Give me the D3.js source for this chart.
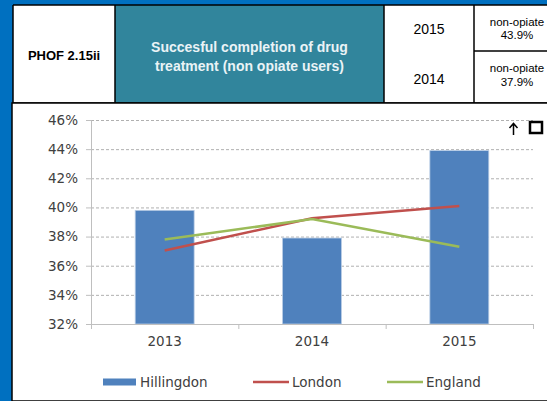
<!DOCTYPE html>
<html>
<head>
<meta charset="utf-8">
<script src="https://cdn.jsdelivr.net/npm/d3@7"></script>
<style>
  body { margin: 0; background: #0070c0; }
  svg { display: block; }
</style>
</head>
<body>
<div id="chart"></div>
<script>
var years = ["2013", "2014", "2015"];
var hillingdon = [39.8, 37.9, 43.9];
var london = [37.05, 39.25, 40.1];
var england = [37.8, 39.2, 37.3];
var yTicks = [32, 34, 36, 38, 40, 42, 44, 46];
var seriesNames = ["Hillingdon", "London", "England"];
var seriesColors = ["#4f81bd", "#c0504d", "#9bbb59"];

var width = 547, height = 401;
var svg = d3.select("#chart").append("svg")
  .attr("width", width)
  .attr("height", height);

// header table
var hTop = 5, hBot = 103, hMid = 51;
svg.append("rect").attr("x", 13).attr("y", hTop).attr("width", 102).attr("height", hBot - hTop).attr("fill", "#fff");
svg.append("rect").attr("x", 115).attr("y", hTop).attr("width", 269).attr("height", hBot - hTop).attr("fill", "#31859c");
svg.append("rect").attr("x", 384).attr("y", hTop).attr("width", 170).attr("height", hBot - hTop).attr("fill", "#fff");

var lines = [[13, hTop, 547, hTop], [13, hBot, 547, hBot], [13, hTop, 13, hBot], [115, hTop, 115, hBot],
             [384, hTop, 384, hBot], [474, hTop, 474, hBot], [474, hMid, 547, hMid]];
svg.selectAll(".tline").data(lines).enter().append("line")
  .attr("x1", function (d) { return d[0]; })
  .attr("y1", function (d) { return d[1]; })
  .attr("x2", function (d) { return d[2]; })
  .attr("y2", function (d) { return d[3]; })
  .attr("stroke", "#000")
  .attr("stroke-width", 1.5);

var hfont = "'Liberation Sans', Arial, sans-serif";
svg.append("text").attr("x", 64).attr("y", 59.5).attr("text-anchor", "middle")
  .attr("font-family", hfont).attr("font-size", "13px")
  .attr("font-weight", "bold").attr("fill", "#000").text("PHOF 2.15ii");

svg.append("text").attr("x", 249.5).attr("y", 52).attr("text-anchor", "middle")
  .attr("font-family", hfont).attr("font-size", "14px")
  .attr("font-weight", "bold").attr("fill", "#eaf3f6").text("Succesful completion of drug");
svg.append("text").attr("x", 249.5).attr("y", 71).attr("text-anchor", "middle")
  .attr("font-family", hfont).attr("font-size", "14px")
  .attr("font-weight", "bold").attr("fill", "#eaf3f6").text("treatment (non opiate users)");

svg.append("text").attr("x", 429).attr("y", 34).attr("text-anchor", "middle")
  .attr("font-family", hfont).attr("font-size", "14px")
  .attr("fill", "#000").text("2015");
svg.append("text").attr("x", 429).attr("y", 84).attr("text-anchor", "middle")
  .attr("font-family", hfont).attr("font-size", "14px")
  .attr("fill", "#000").text("2014");

var cellText = [["non-opiate", 26], ["43.9%", 39], ["non-opiate", 72], ["37.9%", 86]];
svg.selectAll(".ctext").data(cellText).enter().append("text")
  .attr("x", 517)
  .attr("y", function (d) { return d[1]; })
  .attr("text-anchor", "middle")
  .attr("font-family", hfont)
  .attr("font-size", "11.5px")
  .attr("fill", "#000")
  .text(function (d) { return d[0]; });

// chart panel
svg.append("rect").attr("x", 12).attr("y", hBot).attr("width", 540).attr("height", height - hBot)
  .attr("fill", "#fff").attr("stroke", "#000").attr("stroke-width", 1.5);

var margin = {left: 91, right: 14, top: 120, bottom: 77};
var x = d3.scaleBand().domain(years).range([margin.left, width - margin.right]);
var y = d3.scaleLinear().domain([32, 46]).range([height - margin.bottom, margin.top]);

var font = "'DejaVu Sans', sans-serif";

// gridlines
svg.append("g").selectAll("line").data(yTicks.filter(function (d) { return d > 32; }))
  .enter().append("line")
  .attr("x1", margin.left).attr("x2", width - margin.right)
  .attr("y1", function (d) { return y(d) + 0.5; })
  .attr("y2", function (d) { return y(d) + 0.5; })
  .attr("stroke", "#b0b0b0")
  .attr("stroke-dasharray", "3,2")
  .attr("stroke-width", 1);

// bars
svg.append("g").selectAll("rect").data(hillingdon).enter().append("rect")
  .attr("x", function (d, i) { return x(years[i]) + x.bandwidth() * 0.3; })
  .attr("width", x.bandwidth() * 0.4)
  .attr("y", function (d) { return y(d); })
  .attr("height", function (d) { return y(32) - y(d); })
  .attr("fill", "#4f81bd")
  .attr("stroke", "#b9cde5")
  .attr("stroke-width", 0.8);

var line = d3.line()
  .x(function (d, i) { return x(years[i]) + x.bandwidth() / 2; })
  .y(function (d) { return y(d); });

svg.append("path").datum(london).attr("d", line)
  .attr("fill", "none").attr("stroke", "#c0504d").attr("stroke-width", 2.5);
svg.append("path").datum(england).attr("d", line)
  .attr("fill", "none").attr("stroke", "#9bbb59").attr("stroke-width", 2.5);

// axes
var yAxis = svg.append("g")
  .attr("transform", "translate(" + margin.left + ",0)")
  .call(d3.axisLeft(y).tickValues(yTicks).tickSize(5).tickPadding(8)
    .tickFormat(function (d) { return d + "%"; }));
yAxis.select(".domain").attr("stroke", "#bfbfbf");
yAxis.selectAll(".tick line").attr("stroke", "#bfbfbf");
yAxis.selectAll("text").attr("fill", "#404040").attr("font-size", "13.5px").attr("font-family", font);

var xAxis = svg.append("g")
  .attr("transform", "translate(0," + y(32) + ")")
  .call(d3.axisBottom(x).tickSize(0).tickPadding(12));
xAxis.select(".domain").attr("stroke", "#bfbfbf");
xAxis.selectAll("text").attr("fill", "#404040").attr("font-size", "13.5px").attr("font-family", font);
// category separators
svg.append("g").selectAll("line").data(years.concat(["end"])).enter().append("line")
  .attr("x1", function (d, i) { return margin.left + i * x.bandwidth() + 0.5; })
  .attr("x2", function (d, i) { return margin.left + i * x.bandwidth() + 0.5; })
  .attr("y1", y(32)).attr("y2", y(32) + 5)
  .attr("stroke", "#bfbfbf");

// legend
var legend = svg.append("g");
var legX = [103, 253, 387];
legend.selectAll("g").data(seriesNames).enter().append("g")
  .attr("transform", function (d, i) { return "translate(" + legX[i] + ",382)"; })
  .each(function (d, i) {
    var g = d3.select(this);
    if (i === 0) {
      g.append("rect").attr("x", 0).attr("y", -3.5).attr("width", 33).attr("height", 7).attr("fill", seriesColors[i]);
    } else {
      g.append("line").attr("x1", 0).attr("x2", 36).attr("y1", 0).attr("y2", 0)
        .attr("stroke", seriesColors[i]).attr("stroke-width", 2.5);
    }
    g.append("text").attr("x", i === 0 ? 37 : 39).attr("y", 0).attr("dy", "0.35em")
      .attr("fill", "#404040").attr("font-size", "13.5px").attr("font-family", font).text(d);
  });

// arrow and box icons
svg.append("path").attr("d", "M513.5,135 L513.5,124 M509.5,128 L513.5,123.5 L517.5,128")
  .attr("fill", "none").attr("stroke", "#000").attr("stroke-width", 1.5);
svg.append("rect").attr("x", 530).attr("y", 122).attr("width", 12).attr("height", 11)
  .attr("fill", "none").attr("stroke", "#000").attr("stroke-width", 2.5);
</script>
</body>
</html>
